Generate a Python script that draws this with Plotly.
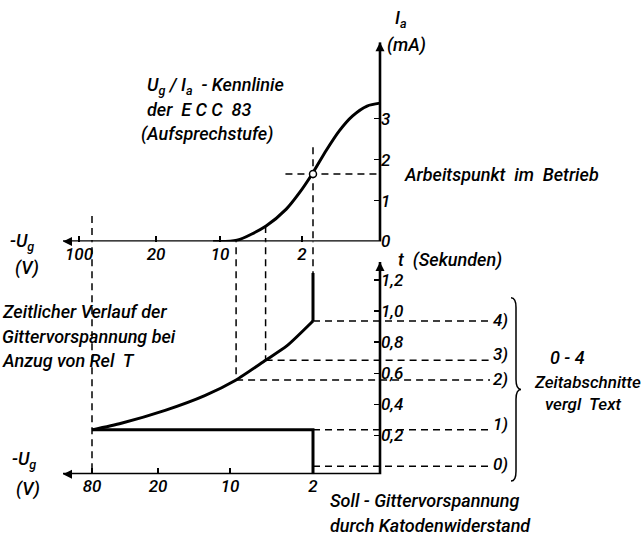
import numpy as np
import plotly.graph_objects as go

# ------------------------------------------------------------------ data
# hand-drawn, non-linear -Ug scales (voltage -> drawing distance left of the vertical axis)
TOP_SCALE_V = [0, 2, 10, 20, 100]
TOP_SCALE_D = [0, 78, 160, 224, 301]
BOT_SCALE_V = [0, 2, 10, 20, 80]
BOT_SCALE_D = [0, 67, 150, 222, 288]

TOP_TICK_V = [100, 20, 10, 2]
TOP_TICK_TEXT = ["100", "20", "10", "2"]
BOT_TICK_V = [80, 20, 10, 2]
BOT_TICK_TEXT = ["80", "20", "10", "2"]

IA_TICKS = [0, 1, 2, 3]
IA_TICK_TEXT = ["0", "1", "2", "3"]
T_TICKS = [0.2, 0.4, 0.6, 0.8, 1.0, 1.2]
T_TICK_TEXT = ["0,2", "0,4", "0,6", "0,8", "1,0", "1,2"]

# Ug/Ia characteristic of the ECC 83 (top scale)
KENN_UG = [10.8, 7.4, 4.3, 2.85, 2.14, 1.6, 1.13, 0.77, 0.47, 0.2, 0.0]
KENN_IA = [0.0, 0.03, 0.38, 0.79, 1.18, 1.65, 2.23, 2.71, 3.07, 3.31, 3.38]

# operating point
AP_UG = 2.0        # bottom scale (Soll-Gittervorspannung)
AP_IA = 1.65
AP_LINE_UG = 2.9   # start of the horizontal dashed line (top scale)

# time course of the grid bias after Rel T pulls in (bottom scale)
ZEIT_UG = [80, 43.5, 18.7, 12.8, 9.0, 5.3, 3.5, 2.0]
ZEIT_T = [0.235, 0.278, 0.361, 0.456, 0.557, 0.684, 0.778, 0.937]
SPRUNG_UG = [2.0, 2.0]
SPRUNG_T = [0.937, 1.247]

SOLL_UG = [80, 2, 2]
SOLL_T = [0.235, 0.235, None]   # None: down to the axis

# time sections 0) .. 4)
ABS_LABEL = ["0)", "1)", "2)", "3)", "4)"]
ABS_T = [0.0, 0.235, 0.557, 0.684, 0.937]
ABS_UG = [2.0, 2.0, 9.0, 5.3, 2.0]

# vertical dashed connectors (bottom-scale voltages)
VERB_UG = [80, 9.0, 5.3, 2.0]
VERB_IA_TOP = [0.62, 0.0, 0.38, 2.3]
VERB_T_LOW = [None, 0.557, 0.684, 1.247]   # None: down to the axis


# ------------------------------------------------------------------ scales
def top_pos(v):
    return np.interp(np.log1p(np.asarray(v, float)), np.log1p(TOP_SCALE_V), TOP_SCALE_D)


def bot_pos(v):
    return np.interp(np.log1p(np.asarray(v, float)), np.log1p(BOT_SCALE_V), BOT_SCALE_D)


W, H = 642, 547
AXIS_PX = 380
X_LEFT_PX, X_RIGHT_PX = 63, 548
X_RANGE = [AXIS_PX - X_LEFT_PX, AXIS_PX - X_RIGHT_PX]
X_DOMAIN = [X_LEFT_PX / W, X_RIGHT_PX / W]
AXIS_PAPER = AXIS_PX / W

TOP_BASE_PX, TOP_TIP_PX, IA_PX = 246, 43, 41.7
IA_TIP = (TOP_BASE_PX - TOP_TIP_PX) / IA_PX
T0_PX, T_PX, BOT_BASE_PX, BOT_TIP_PX = 475, 158.0, 483, 267
T_MIN = (T0_PX - BOT_BASE_PX) / T_PX
T_MAX = (T0_PX - TOP_BASE_PX) / T_PX
T_TIP = (T0_PX - BOT_TIP_PX) / T_PX


def py(p):
    return 1 - p / H


def px(p):
    return p / W


def t_paper(t):
    return py(T0_PX - t * T_PX)


FONT = "Roboto, DejaVu Sans Condensed, sans-serif"
TXT = dict(family=FONT, size=18, color="black", style="italic", weight=500)
LBLF = dict(family=FONT, size=17, color="black", style="italic", weight=500)
TICKF = dict(family=FONT, size=17, color="black", style="italic", weight=500)
THICK = dict(color="black", width=3)
AXL = dict(color="black", width=2.6)
DASH = dict(color="black", width=1.5, dash="7px,5px")

fig = go.Figure()

# ---------------- top panel (x, y)
fig.add_trace(go.Scatter(x=[X_RANGE[0], 0, 0], y=[0, 0, IA_TIP], mode="lines",
                         line=AXL, xaxis="x", yaxis="y", hoverinfo="skip"))
fig.add_trace(go.Scatter(x=top_pos(KENN_UG), y=KENN_IA, mode="lines",
                         line=dict(color="black", width=3, shape="spline", smoothing=0.8),
                         xaxis="x", yaxis="y"))
vx, vy = [], []
for ug, ia in zip(VERB_UG, VERB_IA_TOP):
    p = float(bot_pos(ug))
    vx += [p, p, None]
    vy += [ia, -1, None]
fig.add_trace(go.Scatter(x=vx, y=vy, mode="lines", line=DASH, xaxis="x", yaxis="y"))
fig.add_trace(go.Scatter(x=[float(top_pos(AP_LINE_UG)), 0], y=[AP_IA, AP_IA], mode="lines",
                         line=DASH, xaxis="x", yaxis="y"))
fig.add_trace(go.Scatter(x=[float(bot_pos(AP_UG))], y=[AP_IA], mode="markers",
                         marker=dict(size=7, color="white", line=dict(color="black", width=1.5)),
                         xaxis="x", yaxis="y"))
# arrowheads of the top axes
fig.add_trace(go.Scatter(x=[X_RANGE[0]], y=[0], mode="markers", xaxis="x", yaxis="y",
                         marker=dict(symbol="arrow-left", size=9, color="black"), cliponaxis=False))
fig.add_trace(go.Scatter(x=[0], y=[IA_TIP], mode="markers", xaxis="x", yaxis="y",
                         marker=dict(symbol="arrow-up", size=9, color="black"), cliponaxis=False))

# ---------------- bottom panel (x2, y2)
fig.add_trace(go.Scatter(x=[X_RANGE[0], 0, 0], y=[T_MIN, T_MIN, T_TIP], mode="lines",
                         line=AXL, xaxis="x2", yaxis="y2"))
fig.add_trace(go.Scatter(x=bot_pos(ZEIT_UG), y=ZEIT_T, mode="lines",
                         line=dict(color="black", width=3, shape="spline", smoothing=0.6),
                         xaxis="x2", yaxis="y2"))
fig.add_trace(go.Scatter(x=bot_pos(SPRUNG_UG), y=SPRUNG_T, mode="lines", line=THICK,
                         xaxis="x2", yaxis="y2"))
soll_t = [T_MIN if t is None else t for t in SOLL_T]
fig.add_trace(go.Scatter(x=bot_pos(SOLL_UG), y=soll_t, mode="lines", line=THICK,
                         xaxis="x2", yaxis="y2"))
vx, vy = [], []
for ug, tl in zip(VERB_UG, VERB_T_LOW):
    p = float(bot_pos(ug))
    vx += [p, p, None]
    vy += [10, T_MIN if tl is None else tl, None]
fig.add_trace(go.Scatter(x=vx, y=vy, mode="lines", line=DASH, xaxis="x2", yaxis="y2"))

LABEL_D = AXIS_PX - 490
hx, hy = [], []
for ug, t in zip(ABS_UG, ABS_T):
    hx += [float(bot_pos(ug)), LABEL_D, None]
    hy += [t, t, None]
fig.add_trace(go.Scatter(x=hx, y=hy, mode="lines", line=DASH, xaxis="x2", yaxis="y2"))
fig.add_trace(go.Scatter(x=[X_RANGE[0]], y=[T_MIN], mode="markers", xaxis="x2", yaxis="y2",
                         marker=dict(symbol="arrow-left", size=9, color="black"), cliponaxis=False))
fig.add_trace(go.Scatter(x=[0], y=[T_TIP], mode="markers", xaxis="x2", yaxis="y2",
                         marker=dict(symbol="arrow-up", size=9, color="black"), cliponaxis=False))

annotations = []
LABEL_YSHIFT = [2, 6, 1, 6, 1]
for lab, t, ys in zip(ABS_LABEL, ABS_T, LABEL_YSHIFT):
    annotations.append(dict(x=LABEL_D, y=t, xref="x2", yref="y2", text=lab, showarrow=False,
                            xanchor="left", yanchor="middle", font=LBLF, xshift=1, yshift=ys))

# curly brace grouping the time sections (paper coordinates, derived from the t scale)
b_top, b_bot = t_paper(max(ABS_T) + 0.15), t_paper(min(ABS_T) - 0.095)
b_mid = (b_top + b_bot) / 2
xl, xm, xr = px(511), px(516), px(521)
h = 10 / H
path = (f"M {xl},{b_top} Q {xm},{b_top} {xm},{b_top - h} L {xm},{b_mid + h} "
        f"Q {xm},{b_mid} {xr},{b_mid} Q {xm},{b_mid} {xm},{b_mid - h} "
        f"L {xm},{b_bot + h} Q {xm},{b_bot} {xl},{b_bot}")
shapes = [dict(type="path", path=path, xref="paper", yref="paper",
               line=dict(color="black", width=1.5))]


def txt(text, x, y, xanchor="left", size=None):
    f = dict(TXT)
    if size:
        f["size"] = size
    annotations.append(dict(x=px(x), y=py(y), xref="paper", yref="paper", text=text,
                            showarrow=False, xanchor=xanchor, yanchor="middle", font=f))


txt("I<sub>a</sub>", 393, 19)
txt("(mA)", 385, 46)
txt("U<sub>g</sub> / I<sub>a</sub>  - Kennlinie", 145, 88)
txt("der  E C C  83", 145, 112)
txt("(Aufsprechstufe)", 139, 136)
txt("Arbeitspunkt  im  Betrieb", 402, 178)
txt("-U<sub>g</sub>", 8, 246)
txt("(V)", 13, 273)
txt("-U<sub>g</sub>", 10, 469)
txt("(V)", 14, 498)
txt("t  (Sekunden)", 396, 265)
txt("Zeitlicher Verlauf der", 0, 317)
txt("Gittervorspannung bei", 0, 343)
txt("Anzug von Rel  T", 0, 367)
txt("0 - 4", 548, 364)
txt("Zeitabschnitte", 587, 389, xanchor="center", size=17)
txt("vergl  Text", 583, 412, xanchor="center", size=17)
txt("Soll - Gittervorspannung", 328, 510)
txt("durch Katodenwiderstand", 328, 535)

ax_common = dict(showgrid=False, zeroline=False, showline=False, fixedrange=True)
fig.update_layout(
    width=W, height=H, margin=dict(l=0, r=0, t=0, b=0),
    paper_bgcolor="white", plot_bgcolor="rgba(0,0,0,0)", showlegend=False,
    xaxis=dict(domain=X_DOMAIN, range=X_RANGE, anchor="y", tickvals=top_pos(TOP_TICK_V),
               ticktext=TOP_TICK_TEXT, ticks="inside", ticklen=6, tickwidth=1.5,
               tickcolor="black", tickfont=TICKF, **ax_common),
    yaxis=dict(domain=[py(TOP_BASE_PX), py(TOP_TIP_PX)], range=[0, IA_TIP], anchor="free",
               position=AXIS_PAPER, side="right", tickvals=IA_TICKS, ticktext=IA_TICK_TEXT,
               ticks="inside", ticklen=6, tickwidth=1.5, tickcolor="black", tickfont=TICKF,
               **ax_common),
    xaxis2=dict(domain=X_DOMAIN, range=X_RANGE, anchor="y2", tickvals=bot_pos(BOT_TICK_V),
                ticktext=BOT_TICK_TEXT, ticks="inside", ticklen=6, tickwidth=1.5,
                tickcolor="black", tickfont=TICKF, **ax_common),
    yaxis2=dict(domain=[py(BOT_BASE_PX), py(TOP_BASE_PX)], range=[T_MIN, T_MAX], anchor="free",
                position=AXIS_PAPER, side="right", tickvals=T_TICKS, ticktext=T_TICK_TEXT,
                ticks="inside", ticklen=6, tickwidth=1.5, tickcolor="black", tickfont=TICKF,
                **ax_common),
    annotations=annotations, shapes=shapes,
)

fig.write_html("out.html", config={"displayModeBar": False, "staticPlot": True},
               post_script="document.body.style.margin='0';document.body.style.overflow='hidden';")
